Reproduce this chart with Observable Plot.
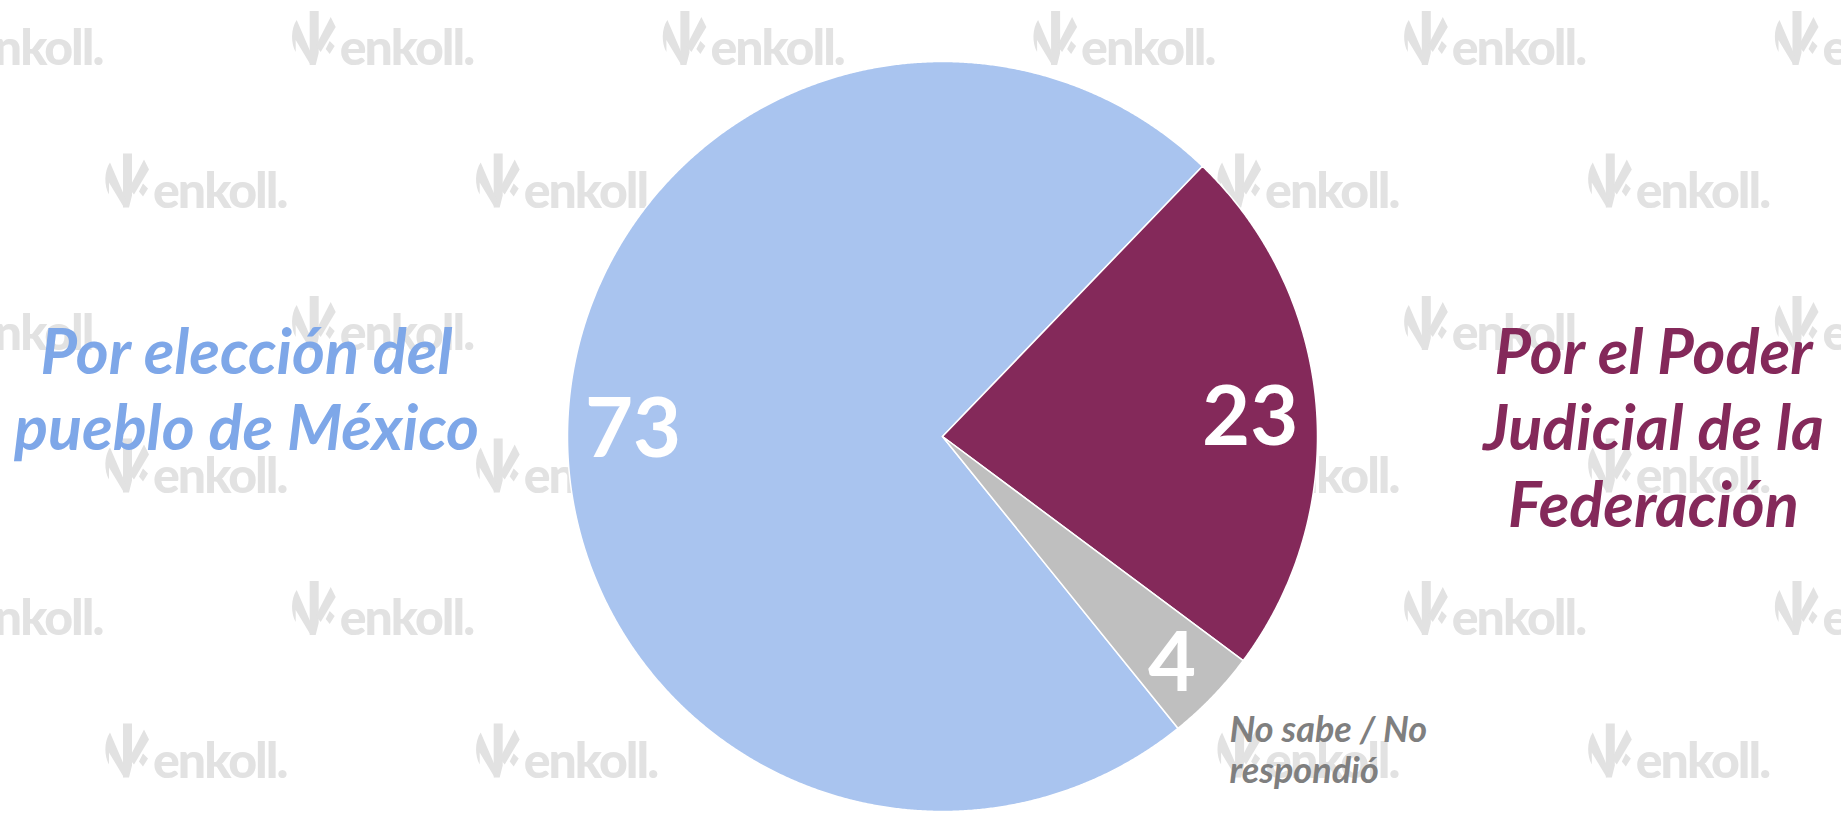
<!DOCTYPE html>
<html><head><meta charset="utf-8">
<script src="https://cdn.jsdelivr.net/npm/d3@7"></script>
<script src="https://cdn.jsdelivr.net/npm/@observablehq/plot@0.6"></script>
<style>
html,body{margin:0;padding:0;background:#fff;}
#wrap{position:relative;width:1841px;height:814px;overflow:hidden;background:#fff;}
#wm{position:absolute;left:0;top:0;}
#chart{position:absolute;left:0;top:0;}
</style></head><body>
<div id="wrap"><svg id="wm" width="1841" height="814"></svg><div id="chart"></div></div>
<script>
// ---- data ----
const categories = ["Por elección del pueblo de México", "Por el Poder Judicial de la Federación", "No sabe / No respondió"];
const values = [73, 23, 4];
const valueLabels = ["73", "23", "4"];
const leftLabel = "Por elección del\npueblo de México";
const rightLabel = "Por el Poder\nJudicial de la\nFederación";
const otherLabel = "No sabe / No\nrespondió";

// ---- styles / layout ----
const sliceColors = ["#a9c4ef", "#84295a", "#bfbfbf"];
const W = 1841, H = 814, R = 375, CX = 942, CY = 436;
const firstSliceAngle = 141.1; // degrees, clockwise from 12 o'clock

// ---- watermark layer (decoration) ----
const wm = d3.select("#wm");
for (let r = 0; r < 6; r++) {
  const base = 65 + r * 142.5;
  const x0 = r % 2 === 0 ? -81 : 103;
  for (let x = x0; x < W; x += 370.7) {
    const g = wm.append("g").attr("transform", `translate(${x},${base})`).attr("fill", "#e2e2e2");
    g.append("path").attr("d", "M20,-54H29V-12L26,0H20Z");
    g.append("path").attr("d", "M7,-45C1,-36 1,-22 6,-13L6,-25L21,0L23,-8Z");
    g.append("path").attr("d", "M41,-48L46,-38L31,-13L26,-19Z");
    g.append("path").attr("d", "M40,-24L45,-19L40,-11L36,-16Z");
    g.append("text").attr("x", 50).attr("y", 0)
      .attr("font-family", "Lato").attr("font-weight", 900).attr("font-size", 50)
      .attr("letter-spacing", -2).text("enkoll.");
  }
}

// ---- pie geometry from data ----
const a0 = firstSliceAngle * Math.PI / 180;
const arcs = d3.pie().sort(null).value(d => d).startAngle(a0).endAngle(a0 + 2 * Math.PI)(values);

const slices = arcs.map((a, i) => {
  const pts = [{x: 0, y: 0, cat: categories[i]}];
  const n = Math.max(4, Math.ceil((a.endAngle - a.startAngle) / (Math.PI / 720)));
  for (let k = 0; k <= n; k++) {
    const t = a.startAngle + (a.endAngle - a.startAngle) * k / n;
    pts.push({x: Math.sin(t), y: Math.cos(t), cat: categories[i]});
  }
  pts.push({x: 0, y: 0, cat: categories[i]});
  return pts;
});

const numSize = 83;
const numLabels = arcs.map((a, i) => {
  const t = (a.startAngle + a.endAngle) / 2;
  const w = valueLabels[i].length * 0.53 * numSize, h = 0.72 * numSize;
  const half = Math.abs(Math.sin(t)) * w / 2 + Math.abs(Math.cos(t)) * h / 2;
  const d = (R - 20 - half) / R;
  return {x: d * Math.sin(t), y: d * Math.cos(t), label: valueLabels[i]};
});

const chart = Plot.plot({
  width: W, height: H, margin: 0,
  x: {domain: [-CX / R, (W - CX) / R], axis: null},
  y: {domain: [-(H - CY) / R, CY / R], axis: null},
  style: {background: "transparent", overflow: "visible"},
  marks: [
    ...slices.map((pts, i) => Plot.line(pts, {x: "x", y: "y", fill: sliceColors[i], stroke: "white", strokeWidth: 1.5, curve: "linear"})),
    Plot.text(numLabels, {x: "x", y: "y", dy: 7, text: "label", fill: "white", fontFamily: "Lato", fontWeight: "bold", fontSize: numSize}),
    Plot.text([leftLabel], {text: d => d, frameAnchor: "top-left", dx: 246, dy: 319, textAnchor: "middle", lineAnchor: "top", lineHeight: 1.215, fill: "#7ea7e8", fontFamily: "Lato", fontWeight: "bold", fontStyle: "italic", fontSize: 63}),
    Plot.text([rightLabel], {text: d => d, frameAnchor: "top-right", dx: -188, dy: 319, textAnchor: "middle", lineAnchor: "top", lineHeight: 1.215, fill: "#84295a", fontFamily: "Lato", fontWeight: "bold", fontStyle: "italic", fontSize: 63}),
    Plot.text([otherLabel], {text: d => d, frameAnchor: "top-left", dx: 1229, dy: 713, textAnchor: "start", lineAnchor: "top", lineHeight: 1.13, fill: "#7f7f7f", fontFamily: "Lato", fontWeight: "bold", fontStyle: "italic", fontSize: 36})
  ]
});
document.getElementById("chart").appendChild(chart);
</script>
</body></html>
